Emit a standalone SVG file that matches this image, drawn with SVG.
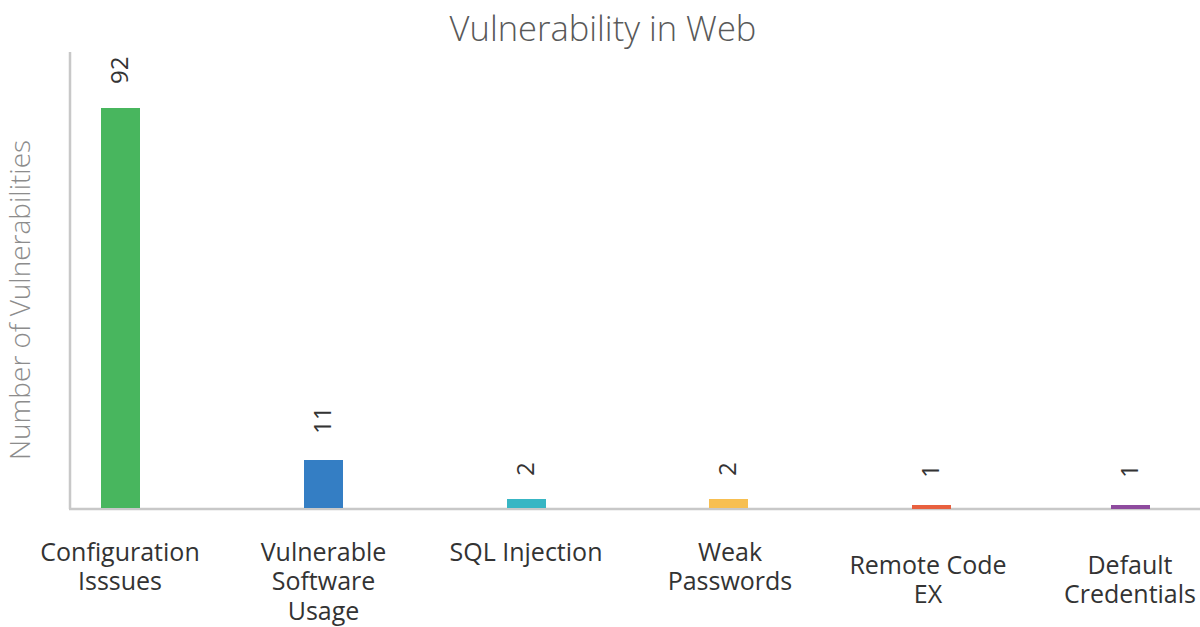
<svg xmlns="http://www.w3.org/2000/svg" width="1200" height="627" viewBox="0 0 1200 627">
<style>
.title{font-family:"Open Sans",sans-serif;font-weight:300;font-size:34.5px;fill:#595959;text-anchor:middle}
.ytitle{font-family:"Open Sans",sans-serif;font-weight:300;font-size:28px;fill:#8c8c8c;text-anchor:middle}
.cat{font-family:"Open Sans",sans-serif;font-size:25px;fill:#333;text-anchor:middle}
.val{font-family:"Open Sans",sans-serif;font-size:24px;fill:#333;text-anchor:start}
.axis{stroke:#c8c8c8;stroke-width:2.5;fill:none}
</style>
<rect width="1200" height="627" fill="#fff"/>
<text class="title" x="603" y="41">Vulnerability in Web</text>
<text class="ytitle" transform="translate(30,300) rotate(-90)">Number of Vulnerabilities</text>
<g id="axes">
<line class="axis" x1="70" y1="52" x2="70" y2="509"/>
<line class="axis" x1="69" y1="509" x2="1200" y2="509"/>
</g>
<g id="bar-config">
<rect x="101" y="108" width="39" height="400" fill="#48b65e"/>
<text class="val" transform="translate(128,84) rotate(-90)">92</text>
<text class="cat" x="120" y="561">Configuration</text>
<text class="cat" x="120" y="590">Isssues</text>
</g>
<g id="bar-vulnsw">
<rect x="304" y="460" width="39" height="48" fill="#347ec4"/>
<text class="val" transform="translate(331,434) rotate(-90)">11</text>
<text class="cat" x="323.5" y="561">Vulnerable</text>
<text class="cat" x="323.5" y="590">Software</text>
<text class="cat" x="323.5" y="620">Usage</text>
</g>
<g id="bar-sql">
<rect x="507" y="499" width="39" height="9" fill="#38b6c4"/>
<text class="val" transform="translate(534,476) rotate(-90)">2</text>
<text class="cat" x="526" y="561">SQL Injection</text>
</g>
<g id="bar-weak">
<rect x="709" y="499" width="39" height="9" fill="#f7bf51"/>
<text class="val" transform="translate(736,476) rotate(-90)">2</text>
<text class="cat" x="730" y="561">Weak</text>
<text class="cat" x="730" y="590">Passwords</text>
</g>
<g id="bar-rce">
<rect x="912" y="505" width="39" height="4" fill="#e8603f"/>
<text class="val" transform="translate(939,478) rotate(-90)">1</text>
<text class="cat" x="928" y="574">Remote Code</text>
<text class="cat" x="928" y="603">EX</text>
</g>
<g id="bar-default">
<rect x="1111" y="505" width="39" height="4" fill="#8e4b9e"/>
<text class="val" transform="translate(1138,478) rotate(-90)">1</text>
<text class="cat" x="1130" y="574">Default</text>
<text class="cat" x="1130" y="603">Credentials</text>
</g>
</svg>
